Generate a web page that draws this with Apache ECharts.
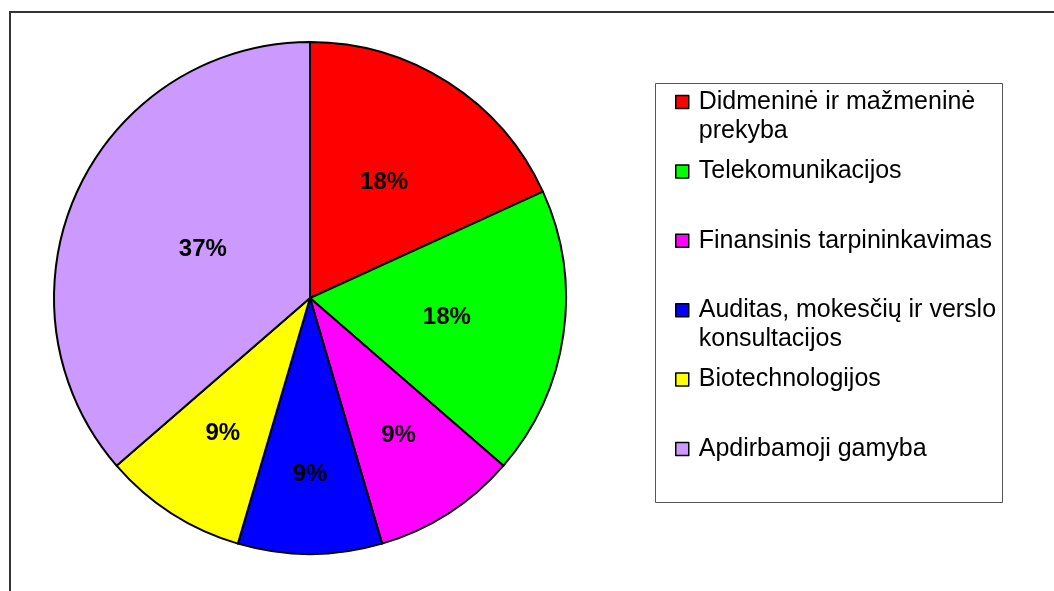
<!DOCTYPE html>
<html>
<head>
<meta charset="utf-8">
<script src="https://cdn.jsdelivr.net/npm/echarts@6/dist/echarts.min.js"></script>
<style>
html,body{margin:0;padding:0;background:#fff;}
#chart{width:1054px;height:591px;}
</style>
</head>
<body>
<div id="chart"></div>
<script>
// sektoriai ir imoniu skaicius
var names = ['Didmeninė ir mažmeninė prekyba', 'Telekomunikacijos', 'Finansinis tarpininkavimas',
	'Auditas, mokesčių ir verslo konsultacijos', 'Biotechnologijos', 'Apdirbamoji gamyba'];
var legendText = ['Didmeninė ir mažmeninė\nprekyba', 'Telekomunikacijos', 'Finansinis tarpininkavimas',
	'Auditas, mokesčių ir verslo\nkonsultacijos', 'Biotechnologijos', 'Apdirbamoji gamyba'];
var values = [2, 2, 1, 1, 1, 4];
var colors = ['#ff0000', '#00ff00', '#ff00ff', '#0000ff', '#ffff00', '#cc99ff'];
// etikeciu atstumas nuo centro (spindulio dalimis)
var labelDist = [0.535, 0.54, 0.64, 0.69, 0.63, 0.46];

var chart = echarts.init(document.getElementById('chart'));
var font = '"Liberation Sans", Arial, sans-serif';
var cx = 310, cy = 298, R = 256;

var pieData = [];
for (var i = 0; i < names.length; i++) {
	pieData.push({ name: names[i], value: values[i], itemStyle: { color: colors[i] } });
}

// vidurinis kiekvieno sektoriaus kampas (nuo virsaus, pagal laikrodzio rodykle)
var total = 0;
values.forEach(function(v) { total += v; });
var midAng = [], acc = 0;
values.forEach(function(v) {
	midAng.push((acc + v / 2) / total * Math.PI * 2);
	acc += v;
});

// atskira legenda kiekvienam irasui, kad tarpai butu vienodi
var legends = [];
for (var k = 0; k < names.length; k++) {
	var twoLines = legendText[k].indexOf('\n') >= 0;
	var ly = 102 + k * 69.4;
	legends.push({
		orient: 'vertical',
		left: 675,
		top: twoLines ? ly - 43.5 : ly - 14.5,
		padding: 0,
		itemWidth: 13,
		itemHeight: 13,
		icon: 'rect',
		selectedMode: false,
		data: [names[k]],
		formatter: (function(t, two) { return function() { return two ? ' \n' + t : t; }; })(legendText[k], twoLines),
		itemStyle: { borderColor: '#000', borderWidth: 1.5 },
		textStyle: {
			fontFamily: font,
			fontSize: 25,
			color: '#000',
			lineHeight: 29,
			padding: [0, 0, 0, 5]
		}
	});
}

var option = {
	animation: false,
	backgroundColor: '#fff',
	graphic: [
		{ type: 'rect', shape: { x: 10, y: 12, width: 1200, height: 700 }, style: { fill: 'none', stroke: '#333', lineWidth: 2 } },
		{ type: 'rect', shape: { x: 655.5, y: 83.5, width: 347, height: 419 }, style: { fill: 'none', stroke: '#555', lineWidth: 1 } }
	],
	legend: legends,
	series: [{
		type: 'pie',
		center: [cx, cy],
		radius: R,
		startAngle: 90,
		clockwise: true,
		silent: true,
		percentPrecision: 0,
		itemStyle: { borderColor: '#000', borderWidth: 2 },
		label: {
			show: true,
			position: 'inside',
			fontFamily: font,
			fontSize: 24,
			fontWeight: 'bold',
			color: '#000',
			formatter: '{d}%'
		},
		labelLine: { show: false },
		labelLayout: function(p) {
			var a = midAng[p.dataIndex], d = labelDist[p.dataIndex] * R;
			return { x: cx + d * Math.sin(a), y: cy - d * Math.cos(a) };
		},
		data: pieData
	}]
};
chart.setOption(option);
</script>
</body>
</html>
